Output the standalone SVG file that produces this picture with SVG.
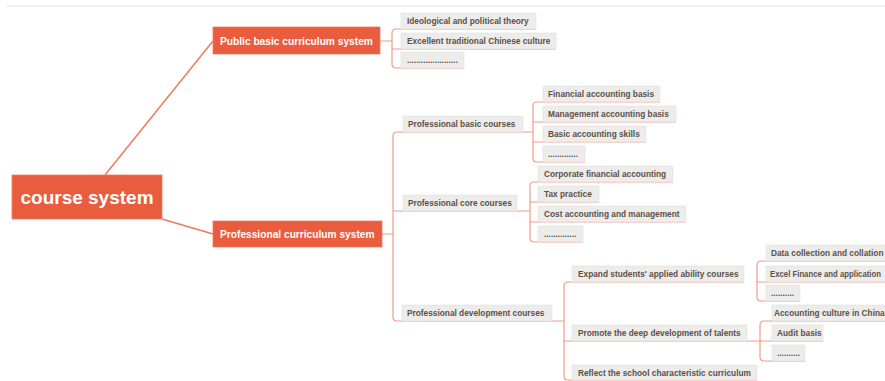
<svg xmlns="http://www.w3.org/2000/svg" width="885" height="381" viewBox="0 0 885 381">
<style>
.main{fill:#e95c3e;stroke:#f07a60;stroke-width:0.8}
.mt{font-family:"Liberation Sans",Arial,sans-serif;font-weight:bold;fill:#ffffff}
.cb{fill:#ececeb;stroke:#e2e0de;stroke-width:0.6}
.ct{font-family:"Liberation Sans",Arial,sans-serif;font-weight:bold;font-size:8.3px;fill:#5e5048}
.ln{fill:none;stroke:#f39a86;stroke-width:1.2;stroke-linejoin:round}
.rl{fill:none;stroke:#ef7a60;stroke-width:1.5}
</style>
<rect width="885" height="381" fill="#ffffff"/>
<line x1="6" y1="6" x2="885" y2="6" stroke="#e4e4e4" stroke-width="1"/>
<g id="connectors">
<line class="rl" x1="105" y1="175" x2="213" y2="41"/>
<line class="rl" x1="162" y1="219" x2="213" y2="234"/>
<path class="ln" d="M380 41H392M536 29H396Q392 29 392 33V64Q392 68 396 68H464M392 49H556"/>
<path class="ln" d="M382 234H393M533 132H397Q393 132 393 136V317Q393 321 397 321H564M393 211H530"/>
<path class="ln" d="M660 102H537Q533 102 533 106V158Q533 162 537 162H585M533 122H676M533 142H646"/>
<path class="ln" d="M673 182H534Q530 182 530 186V238Q530 242 534 242H583M530 202H599M530 222H686"/>
<path class="ln" d="M744 282H568Q564 282 564 286V376Q564 380 568 380H757M564 341H760"/>
<path class="ln" d="M885 261H761Q757 261 757 265V297Q757 301 761 301H800M757 282H885"/>
<path class="ln" d="M885 321H764Q760 321 760 325V357Q760 361 764 361H805M760 341H823"/>
</g>
<g id="root">
<rect class="main" x="12" y="175" width="150" height="44"/>
<text class="mt" x="87" y="204" font-size="19" text-anchor="middle">course system</text>
</g>
<g id="public">
<rect class="main" x="213" y="27" width="167" height="27"/>
<text class="mt" x="220" y="45" font-size="10.2">Public basic curriculum system</text>
</g>
<g id="professional">
<rect class="main" x="213" y="221" width="169" height="26"/>
<text class="mt" x="220" y="238" font-size="10.2">Professional curriculum system</text>
</g>
<g id="pub1"><rect class="cb" x="401" y="13" width="135" height="16"/><text class="ct" x="407" y="24">Ideological and political theory</text></g>
<g id="pub2"><rect class="cb" x="401" y="33" width="155" height="16"/><text class="ct" x="407" y="44">Excellent traditional Chinese culture</text></g>
<g id="pub3"><rect class="cb" x="401" y="52" width="63" height="16"/><text class="ct" x="407" y="63">......................</text></g>
<g id="probasic"><rect class="cb" x="403" y="116" width="120" height="16"/><text class="ct" x="408" y="127">Professional basic courses</text></g>
<g id="procore"><rect class="cb" x="403" y="195" width="114" height="16"/><text class="ct" x="408" y="206">Professional core courses</text></g>
<g id="prodev"><rect class="cb" x="402" y="305" width="150" height="16"/><text class="ct" x="407" y="316">Professional development courses</text></g>
<g id="b1"><rect class="cb" x="543" y="86" width="117" height="16"/><text class="ct" x="548" y="97">Financial accounting basis</text></g>
<g id="b2"><rect class="cb" x="543" y="106" width="133" height="16"/><text class="ct" x="548" y="117">Management accounting basis</text></g>
<g id="b3"><rect class="cb" x="543" y="126" width="103" height="16"/><text class="ct" x="548" y="137">Basic accounting skills</text></g>
<g id="b4"><rect class="cb" x="543" y="146" width="42" height="16"/><text class="ct" x="548" y="157">.............</text></g>
<g id="c1"><rect class="cb" x="538" y="166" width="135" height="16"/><text class="ct" x="544" y="177">Corporate financial accounting</text></g>
<g id="c2"><rect class="cb" x="538" y="186" width="61" height="16"/><text class="ct" x="544" y="197">Tax practice</text></g>
<g id="c3"><rect class="cb" x="538" y="206" width="148" height="16"/><text class="ct" x="544" y="217">Cost accounting and management</text></g>
<g id="c4"><rect class="cb" x="538" y="226" width="45" height="16"/><text class="ct" x="544" y="237">..............</text></g>
<g id="d1"><rect class="cb" x="572" y="266" width="172" height="16"/><text class="ct" x="578" y="277">Expand students' applied ability courses</text></g>
<g id="d2"><rect class="cb" x="572" y="325" width="175" height="16"/><text class="ct" x="578" y="336">Promote the deep development of talents</text></g>
<g id="d3"><rect class="cb" x="572" y="365" width="185" height="15"/><text class="ct" x="578" y="376">Reflect the school characteristic curriculum</text></g>
<g id="e1"><rect class="cb" x="766" y="245" width="125" height="16"/><text class="ct" x="771" y="256">Data collection and collation</text></g>
<g id="e2"><rect class="cb" x="766" y="266" width="125" height="16"/><text class="ct" x="770" y="277" textLength="111" lengthAdjust="spacingAndGlyphs">Excel Finance and application</text></g>
<g id="e3"><rect class="cb" x="766" y="285" width="34" height="16"/><text class="ct" x="771" y="296">..........</text></g>
<g id="p1"><rect class="cb" x="772" y="305" width="120" height="16"/><text class="ct" x="774" y="316">Accounting culture in China</text></g>
<g id="p2"><rect class="cb" x="772" y="325" width="51" height="16"/><text class="ct" x="777" y="336">Audit basis</text></g>
<g id="p3"><rect class="cb" x="772" y="345" width="33" height="16"/><text class="ct" x="777" y="356">..........</text></g>
</svg>
